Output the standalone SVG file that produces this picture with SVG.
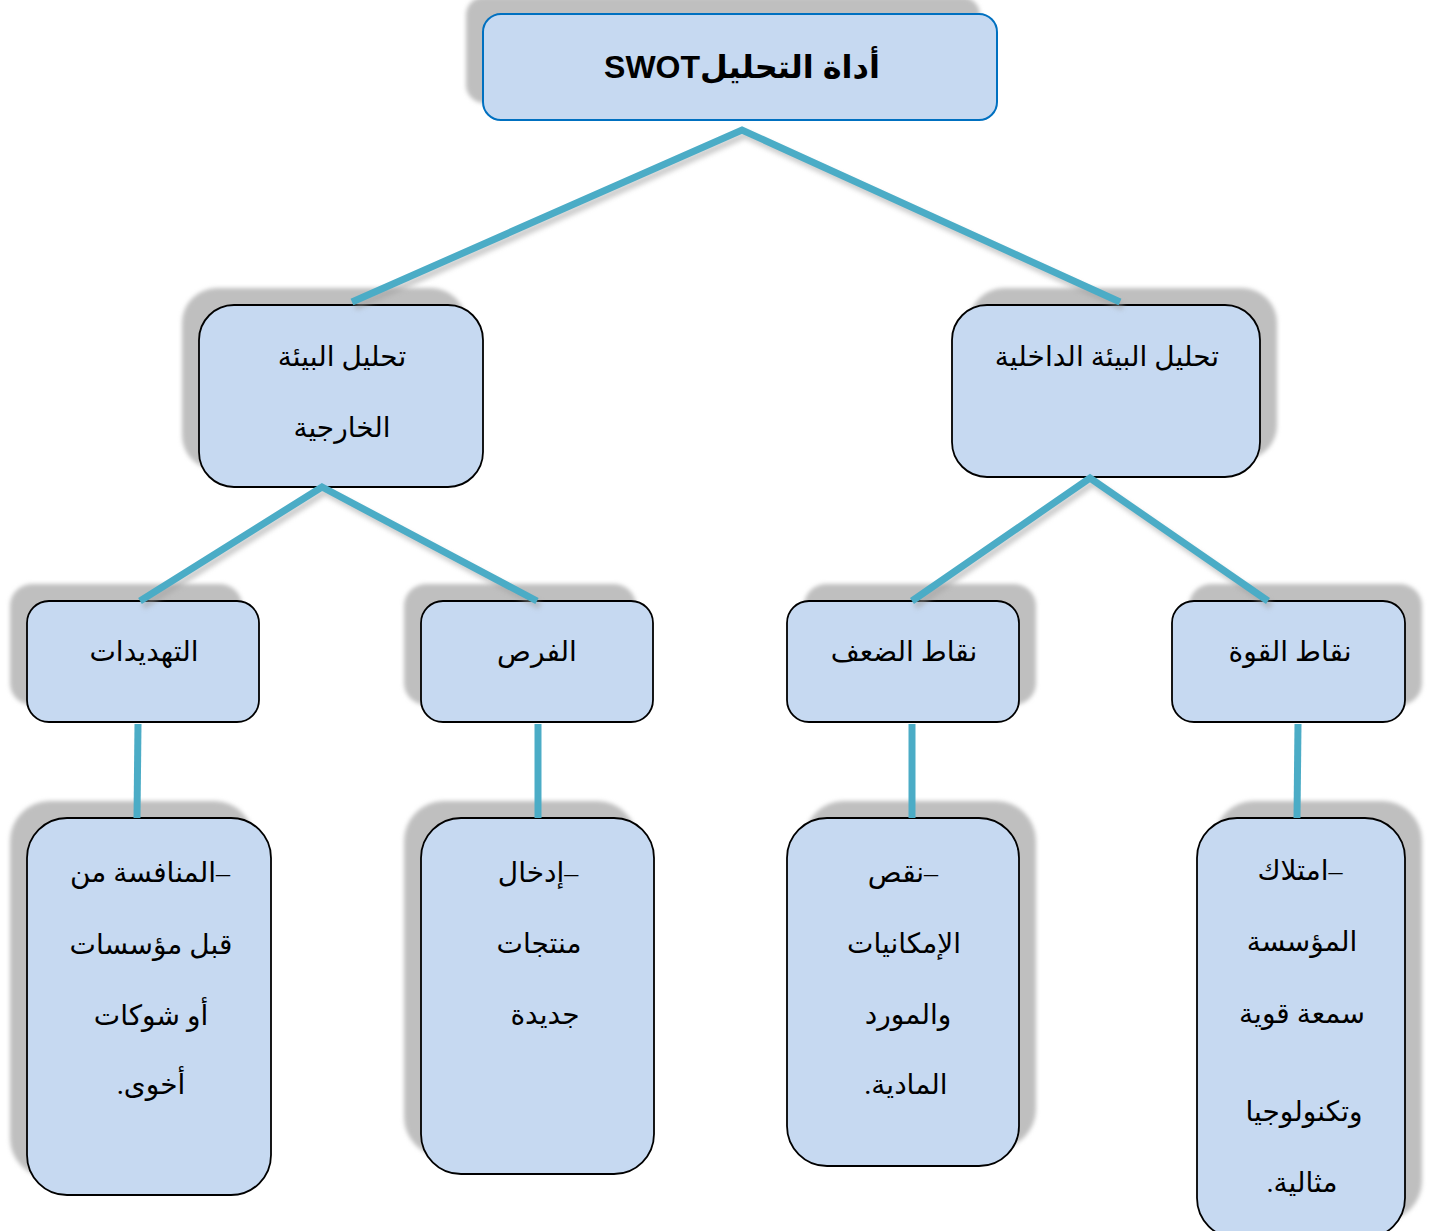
<svg xmlns="http://www.w3.org/2000/svg" width="1432" height="1231" viewBox="0 0 1432 1231">
<defs>
<filter id="blur" x="-10%" y="-10%" width="120%" height="120%"><feGaussianBlur stdDeviation="2"/></filter>
<filter id="lblur" x="-10%" y="-10%" width="120%" height="120%"><feGaussianBlur stdDeviation="2.5"/></filter>
</defs>
<style>
.sh{fill:#bfbfbf;filter:url(#blur)}
.box{fill:#c6d9f1;stroke:#000;stroke-width:1.8}
.top{fill:#c6d9f1;stroke:#0070c0;stroke-width:2}
.t{font-family:"Liberation Serif","DejaVu Sans",serif;font-size:28px;fill:#000;text-anchor:middle;direction:rtl}
.tb{font-family:"Liberation Sans","DejaVu Sans",sans-serif;font-size:32px;font-weight:bold;fill:#000;text-anchor:middle;direction:rtl}
.ln{stroke:#4bacc6;stroke-width:7;fill:none}
.lsh{stroke:#a0a0a0;stroke-width:7;fill:none;opacity:0.55;filter:url(#lblur)}
</style>
<g id="node-title">
<rect class="sh" x="466" y="-3" width="514" height="106" rx="18"/>
<rect class="top" x="483" y="14" width="514" height="106" rx="18"/>
<text class="tb" x="742" y="78" direction="rtl">أداة التحليلSWOT</text>
</g>
<g id="node-external">
<rect class="sh" x="182" y="288" width="284" height="182" rx="35"/>
<rect class="box" x="199" y="305" width="284" height="182" rx="35"/>
<text class="t" x="342" y="366" direction="rtl">تحليل البيئة</text>
<text class="t" x="342" y="437" direction="rtl">الخارجية</text>
</g>
<g id="node-internal">
<rect class="sh" x="969" y="288" width="308" height="172" rx="35"/>
<rect class="box" x="952" y="305" width="308" height="172" rx="35"/>
<text class="t" x="1107" y="366" direction="rtl">تحليل البيئة الداخلية</text>
</g>
<g id="node-threats">
<rect class="sh" x="10" y="584" width="232" height="121" rx="22"/>
<rect class="box" x="27" y="601" width="232" height="121" rx="22"/>
<text class="t" x="144" y="661" direction="rtl">التهديدات</text>
</g>
<g id="node-opportunities">
<rect class="sh" x="404" y="584" width="232" height="121" rx="22"/>
<rect class="box" x="421" y="601" width="232" height="121" rx="22"/>
<text class="t" x="537" y="661" direction="rtl">الفرص</text>
</g>
<g id="node-weakness">
<rect class="sh" x="804" y="584" width="232" height="121" rx="22"/>
<rect class="box" x="787" y="601" width="232" height="121" rx="22"/>
<text class="t" x="904" y="661" direction="rtl">نقاط الضعف</text>
</g>
<g id="node-strength">
<rect class="sh" x="1189" y="584" width="233" height="121" rx="22"/>
<rect class="box" x="1172" y="601" width="233" height="121" rx="22"/>
<text class="t" x="1290" y="661" direction="rtl">نقاط القوة</text>
</g>
<g id="node-threats-detail">
<rect class="sh" x="10" y="801" width="244" height="377" rx="40"/>
<rect class="box" x="27" y="818" width="244" height="377" rx="40"/>
<text class="t" x="150" y="882" direction="rtl">–المنافسة من</text>
<text class="t" x="151" y="954" direction="rtl">قبل مؤسسات</text>
<text class="t" x="151" y="1025" direction="rtl">أو شوكات</text>
<text class="t" x="151" y="1094" direction="rtl">أخوى.</text>
</g>
<g id="node-opportunities-detail">
<rect class="sh" x="404" y="801" width="233" height="356" rx="40"/>
<rect class="box" x="421" y="818" width="233" height="356" rx="40"/>
<text class="t" x="538" y="882" direction="rtl">–إدخال</text>
<text class="t" x="539" y="953" direction="rtl">منتجات</text>
<text class="t" x="545" y="1024" direction="rtl">جديدة</text>
</g>
<g id="node-weakness-detail">
<rect class="sh" x="804" y="801" width="232" height="348" rx="40"/>
<rect class="box" x="787" y="818" width="232" height="348" rx="40"/>
<text class="t" x="903" y="882" direction="rtl">–نقص</text>
<text class="t" x="904" y="953" direction="rtl">الإمكانيات</text>
<text class="t" x="908" y="1024" direction="rtl">والمورد</text>
<text class="t" x="906" y="1094" direction="rtl">المادية.</text>
</g>
<g id="node-strength-detail">
<rect class="sh" x="1214" y="801" width="208" height="420" rx="40"/>
<rect class="box" x="1197" y="818" width="208" height="420" rx="40"/>
<text class="t" x="1300" y="880" direction="rtl">–امتلاك</text>
<text class="t" x="1302" y="951" direction="rtl">المؤسسة</text>
<text class="t" x="1302" y="1023" direction="rtl">سمعة  قوية</text>
<text class="t" x="1304" y="1121" direction="rtl">وتكنولوجيا</text>
<text class="t" x="1302" y="1192" direction="rtl">مثالية.</text>
</g>
<g id="connectors">
<g transform="translate(3,5)">
<polyline class="lsh" points="352,302 742,130 1120,302"/>
<polyline class="lsh" points="140,601 322,487 537,601"/>
<polyline class="lsh" points="912,601 1090,478 1268,601"/>
</g>
<polyline class="ln" points="352,302 742,130 1120,302"/>
<polyline class="ln" points="140,601 322,487 537,601"/>
<polyline class="ln" points="912,601 1090,478 1268,601"/>
<line class="ln" x1="138" y1="724" x2="137" y2="818"/>
<line class="ln" x1="538" y1="724" x2="538" y2="818"/>
<line class="ln" x1="912" y1="724" x2="912" y2="818"/>
<line class="ln" x1="1298" y1="724" x2="1297" y2="818"/>
</g>
</svg>
